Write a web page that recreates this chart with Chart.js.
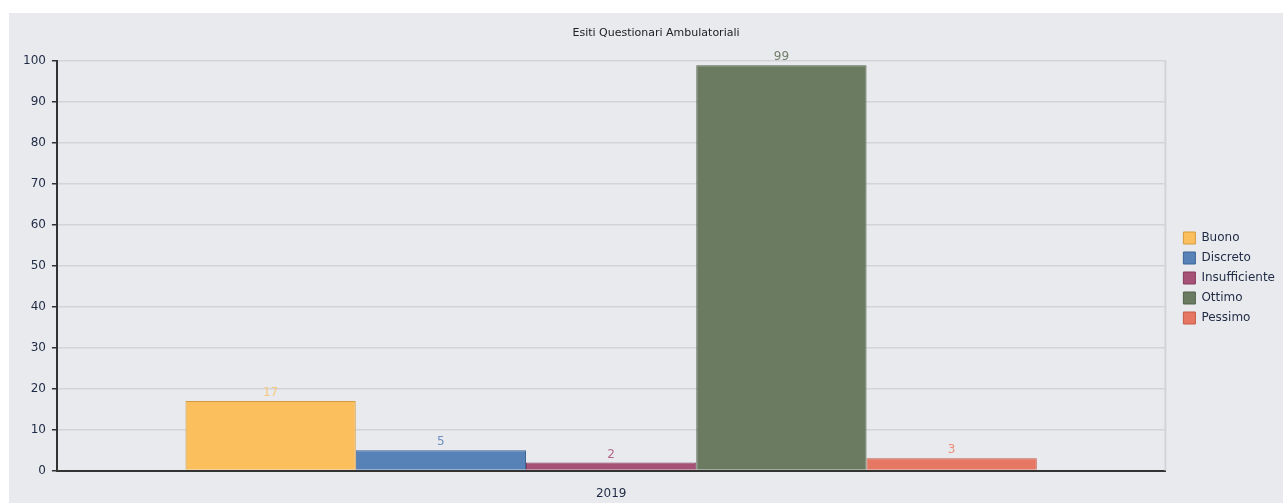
<!DOCTYPE html>
<html>
<head>
<meta charset="utf-8">
<script src="https://cdn.jsdelivr.net/npm/chart.js@4"></script>
<style>
  html, body { margin: 0; padding: 0; background: #ffffff; }
  #panel { position: absolute; left: 9px; top: 13px; width: 1274px; height: 490px; background: #e9eaee; overflow: hidden; }
  #chart { display: block; }
</style>
</head>
<body>
<div id="panel"><canvas id="chart" width="1274" height="490"></canvas></div>
<script>
// dati
const categorie = ['2019'];
const serie     = ['Buono', 'Discreto', 'Insufficiente', 'Ottimo', 'Pessimo'];
const valori    = [17, 5, 2, 99, 3];
const yTicks    = [0, 10, 20, 30, 40, 50, 60, 70, 80, 90, 100];

const FILL   = ['#fbbf5e', '#5782b8', '#a65277', '#6b7b61', '#e67762'];
const BORDER = ['#d49a3e', '#3d6594', '#853a5c', '#52614a', '#c45a45'];
const LABEL  = ['#f6c97e', '#6d8fc0', '#b1698a', '#707e68', '#ef8e79'];
const FONT   = 'DejaVu Sans';

// etichette sopra le barre
const valueLabels = {
  id: 'valueLabels',
  afterDatasetsDraw(chart) {
    const ctx = chart.ctx;
    ctx.save();
    ctx.font = '12px ' + FONT;
    ctx.textAlign = 'center';
    ctx.textBaseline = 'bottom';
    chart.data.datasets.forEach((ds, i) => {
      const bar = chart.getDatasetMeta(i).data[0];
      ctx.fillStyle = LABEL[i];
      ctx.fillText(ds.data[0], bar.x, bar.y - 2);
    });
    ctx.restore();
  }
};

// bordo destro dell'area del grafico
const rightBorder = {
  id: 'rightBorder',
  beforeDatasetsDraw(chart) {
    const { ctx, chartArea } = chart;
    ctx.save();
    ctx.strokeStyle = '#d3d4d8';
    ctx.lineWidth = 2;
    ctx.beginPath();
    ctx.moveTo(chartArea.right, chartArea.top - 1);
    ctx.lineTo(chartArea.right, chartArea.bottom);
    ctx.stroke();
    ctx.restore();
  }
};

// sposta legenda e titolo come nell'originale
const nudge = {
  id: 'nudge',
  afterLayout(chart) {
    const lg = chart.legend;
    lg.left += 10; lg.right += 10; lg.top += 13; lg.bottom += 13;
    const tb = chart.titleBlock;
    tb.left += 10; tb.right += 10;
  }
};

new Chart(document.getElementById('chart'), {
  type: 'bar',
  data: {
    labels: categorie,
    datasets: serie.map((s, i) => ({
      label: s,
      data: [valori[i]],
      backgroundColor: FILL[i],
      borderColor: BORDER[i],
      borderWidth: 1,
      categoryPercentage: 0.768,
      barPercentage: 1
    }))
  },
  options: {
    responsive: false,
    animation: false,
    layout: { padding: { left: 8, right: 8, top: 0, bottom: -14 } },
    plugins: {
      title: {
        display: true,
        text: 'Esiti Questionari Ambulatoriali',
        color: '#222222',
        font: { family: FONT, size: 11, weight: 'normal' },
        padding: { top: 14, bottom: 21 }
      },
      legend: {
        position: 'right',
        labels: {
          color: '#1f2a44',
          font: { family: FONT, size: 12 },
          boxWidth: 12, boxHeight: 12, padding: 8
        }
      },
      tooltip: { enabled: false }
    },
    scales: {
      x: {
        grid: { display: false, drawTicks: false },
        border: { color: '#333333', width: 2 },
        ticks: { color: '#1f2a44', font: { family: FONT, size: 12 }, padding: 16 }
      },
      y: {
        min: 0, max: 100,
        afterBuildTicks: axis => { axis.ticks = yTicks.map(v => ({ value: v })); },
        grid: { color: '#d3d4d8', lineWidth: 1.5, tickLength: 5, tickColor: '#333333' },
        border: { color: '#333333', width: 2 },
        ticks: { color: '#1f2a44', font: { family: FONT, size: 12 }, padding: 6 }
      }
    }
  },
  plugins: [valueLabels, rightBorder, nudge]
});
</script>
</body>
</html>
